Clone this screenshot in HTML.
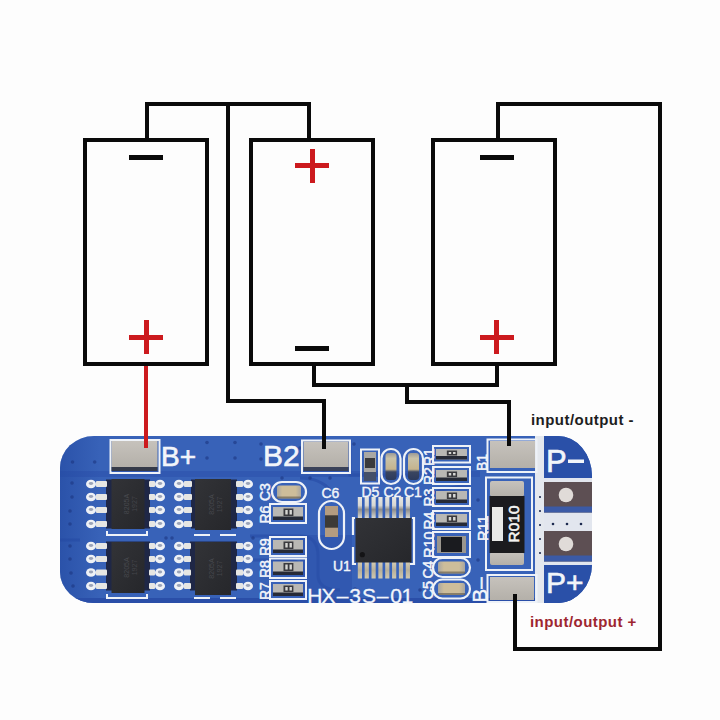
<!DOCTYPE html>
<html><head><meta charset="utf-8">
<style>
html,body{margin:0;padding:0;background:#fdfdfd;}
body{width:720px;height:720px;overflow:hidden;position:relative;font-family:"Liberation Sans",sans-serif;}
svg{position:absolute;left:0;top:0;}
.lbl{position:absolute;font-family:"Liberation Sans",sans-serif;font-weight:bold;font-size:15px;letter-spacing:0.45px;white-space:nowrap;line-height:14px;}
</style></head>
<body>
<svg width="720" height="720" viewBox="0 0 720 720">
<defs><linearGradient id="silv" x1="0" y1="0" x2="0" y2="1"><stop offset="0" stop-color="#c6c2bc"/><stop offset="1" stop-color="#b4b0a9"/></linearGradient><linearGradient id="chipg" x1="0" y1="0" x2="1" y2="1"><stop offset="0" stop-color="#323337"/><stop offset="1" stop-color="#26272b"/></linearGradient><clipPath id="pcbclip"><path d="M94 436 H558 A34 40 0 0 1 592 476 V564 A34 39 0 0 1 558 603 H94 A34 31 0 0 1 60 572 V468 A34 32 0 0 1 94 436 Z"/></clipPath><linearGradient id="leftg" x1="0" y1="0" x2="1" y2="0"><stop offset="0" stop-color="#2248a0" stop-opacity="0.6"/><stop offset="1" stop-color="#2248a0" stop-opacity="0"/></linearGradient><linearGradient id="capg" x1="0" y1="0" x2="0" y2="1"><stop offset="0" stop-color="#9c9a96"/><stop offset="0.2" stop-color="#c9c2a8"/><stop offset="0.6" stop-color="#c4b48e"/><stop offset="0.7" stop-color="#3a4560"/><stop offset="1" stop-color="#2c3a5c"/></linearGradient><linearGradient id="caph" x1="0" y1="0" x2="1" y2="0"><stop offset="0" stop-color="#a9a6a0"/><stop offset="0.22" stop-color="#cdbd9a"/><stop offset="0.78" stop-color="#cdbd9a"/><stop offset="1" stop-color="#a9a6a0"/></linearGradient><linearGradient id="pint" x1="0" y1="0" x2="0" y2="1"><stop offset="0" stop-color="#e6e6e2"/><stop offset="0.4" stop-color="#d8d8d4"/><stop offset="0.6" stop-color="#8d8d8c"/><stop offset="1" stop-color="#d8d8d2"/></linearGradient><linearGradient id="pinb" x1="0" y1="0" x2="0" y2="1"><stop offset="0" stop-color="#d4ccb4"/><stop offset="0.5" stop-color="#b8b09a"/><stop offset="1" stop-color="#d0c8b0"/></linearGradient></defs>
<g clip-path="url(#pcbclip)">
<rect x="55" y="430" width="545" height="180" fill="#3862b8"/>
<rect x="60" y="471" width="420" height="6" fill="#2a4ea8" opacity="0.45"/>
<path d="M250 536 H300 Q318 536 318 556 V575 Q318 590 340 590" fill="none" stroke="#2a4ea8" stroke-width="3" opacity="0.7"/>
<path d="M250 560 H290 Q300 560 305 575" fill="none" stroke="#2a4ea8" stroke-width="3" opacity="0.7"/>
<path d="M60 540 H80" fill="none" stroke="#2a4ea8" stroke-width="3" opacity="0.7"/>
<path d="M300 478 Q320 478 330 490" fill="none" stroke="#2a4ea8" stroke-width="3" opacity="0.7"/>
<path d="M420 500 Q430 490 470 485" fill="none" stroke="#2a4ea8" stroke-width="3" opacity="0.7"/>
<path d="M350 440 V475 H420" fill="none" stroke="#2a4ea8" stroke-width="3" opacity="0.7"/>
<rect x="60" y="436" width="40" height="168" fill="url(#leftg)"/>
<circle cx="72.5" cy="462" r="1.8" fill="#1c3580" opacity="0.6"/>
<circle cx="94.7" cy="462" r="1.8" fill="#1c3580" opacity="0.6"/>
<circle cx="207" cy="442.5" r="1.8" fill="#1c3580" opacity="0.6"/>
<circle cx="235" cy="442.5" r="1.8" fill="#1c3580" opacity="0.6"/>
<circle cx="207" cy="458" r="1.8" fill="#1c3580" opacity="0.6"/>
<circle cx="235" cy="458" r="1.8" fill="#1c3580" opacity="0.6"/>
<circle cx="261" cy="444" r="1.8" fill="#1c3580" opacity="0.6"/>
<circle cx="261" cy="459" r="1.8" fill="#1c3580" opacity="0.6"/>
<circle cx="72" cy="483" r="1.8" fill="#1c3580" opacity="0.6"/>
<circle cx="72" cy="497" r="1.8" fill="#1c3580" opacity="0.6"/>
<circle cx="70" cy="511" r="1.8" fill="#1c3580" opacity="0.6"/>
<circle cx="70" cy="524" r="1.8" fill="#1c3580" opacity="0.6"/>
<circle cx="70" cy="546" r="1.8" fill="#1c3580" opacity="0.6"/>
<circle cx="70" cy="559" r="1.8" fill="#1c3580" opacity="0.6"/>
<circle cx="71" cy="573" r="1.8" fill="#1c3580" opacity="0.6"/>
<circle cx="73" cy="586" r="1.8" fill="#1c3580" opacity="0.6"/>
<circle cx="166" cy="538" r="1.8" fill="#1c3580" opacity="0.6"/>
<circle cx="172" cy="538" r="1.8" fill="#1c3580" opacity="0.6"/>
<circle cx="253" cy="538" r="1.8" fill="#1c3580" opacity="0.6"/>
<circle cx="300" cy="448" r="1.8" fill="#1c3580" opacity="0.6"/>
<circle cx="354" cy="444" r="1.8" fill="#1c3580" opacity="0.6"/>
<circle cx="360" cy="500" r="1.8" fill="#1c3580" opacity="0.6"/>
<circle cx="330" cy="478" r="1.8" fill="#1c3580" opacity="0.6"/>
<circle cx="478" cy="500" r="1.8" fill="#1c3580" opacity="0.6"/>
<circle cx="478" cy="560" r="1.8" fill="#1c3580" opacity="0.6"/>
<circle cx="282" cy="478" r="1.8" fill="#1c3580" opacity="0.6"/>
<circle cx="310" cy="478" r="1.8" fill="#1c3580" opacity="0.6"/>
<circle cx="355" cy="589" r="1.8" fill="#1c3580" opacity="0.6"/>
<circle cx="420" cy="590" r="1.8" fill="#1c3580" opacity="0.6"/>
<rect x="60" y="598" width="532" height="8" fill="#2a4ea8"/>
<path d="M300 535 H352 V598 H300 Z" fill="#2a4ea8" opacity="0.5"/>
<rect x="544" y="430" width="56" height="180" fill="#2a50a8"/>
<rect x="535" y="436" width="9" height="168" fill="#e4e8ee"/>
<rect x="544" y="478" width="48" height="87" fill="#e2e6ee"/>
<rect x="544" y="482" width="48" height="30.5" fill="#5d4f53"/>
<rect x="544" y="506.5" width="48" height="6" fill="#3b5aa6"/>
<circle cx="566" cy="495" r="7.3" fill="#e0dbd8"/>
<rect x="544" y="531" width="48" height="30.5" fill="#5d4f53"/>
<rect x="544" y="555.5" width="48" height="6" fill="#3b5aa6"/>
<circle cx="566" cy="544" r="7.3" fill="#e0dbd8"/>
<circle cx="553" cy="524" r="1.3" fill="#1d2a50"/>
<circle cx="567" cy="524" r="1.3" fill="#1d2a50"/>
<circle cx="581" cy="524" r="1.3" fill="#1d2a50"/>
<circle cx="540" cy="497" r="1.1" fill="#1d2a50"/>
<circle cx="540" cy="511" r="1.1" fill="#1d2a50"/>
<circle cx="540" cy="525" r="1.1" fill="#1d2a50"/>
<circle cx="540" cy="539" r="1.1" fill="#1d2a50"/>
<circle cx="540" cy="553" r="1.1" fill="#1d2a50"/>
</g>
<rect x="110.5" y="440" width="49.0" height="33" fill="none" stroke="#eef2f8" stroke-width="2"/>
<rect x="111.5" y="441" width="46.0" height="26" fill="url(#silv)"/>
<rect x="111.5" y="467" width="46" height="4" fill="#353a48"/>
<rect x="302" y="440.5" width="48" height="32.5" fill="none" stroke="#eef2f8" stroke-width="2"/>
<rect x="303.5" y="441.5" width="45.0" height="25.5" fill="url(#silv)"/>
<rect x="303.5" y="467" width="45" height="4" fill="#3a4258"/>
<rect x="487.5" y="439.5" width="49.0" height="32.5" fill="none" stroke="#eef2f8" stroke-width="2"/>
<rect x="490" y="441" width="45" height="27" fill="url(#silv)"/>
<rect x="487.5" y="575" width="49.0" height="27" fill="none" stroke="#eef2f8" stroke-width="2"/>
<rect x="490" y="577" width="44" height="23" fill="url(#silv)"/>
<text x="161" y="466" font-family="Liberation Sans" font-size="28" fill="#f2f5fa" text-anchor="start" letter-spacing="0" stroke="#f2f5fa" stroke-width="0.7">B+</text>
<text x="263" y="466" font-family="Liberation Sans" font-size="30" fill="#f2f5fa" text-anchor="start" letter-spacing="0" stroke="#f2f5fa" stroke-width="0.6">B2</text>
<text x="546" y="472" font-family="Liberation Sans" font-size="31" fill="#f2f5fa" text-anchor="start" letter-spacing="0" stroke="#f2f5fa" stroke-width="0.6">P</text>
<rect x="568" y="459.5" width="16" height="3.5" fill="#f2f5fa"/>
<text x="546" y="593" font-family="Liberation Sans" font-size="30" fill="#f2f5fa" text-anchor="start" letter-spacing="0" stroke="#f2f5fa" stroke-width="0.6">P+</text>
<text y="602.5" font-family="Liberation Sans" font-size="21" fill="#f2f5fa" stroke="#f2f5fa" stroke-width="0.3"><tspan x="307.3 321.5 336.7 349.2 362 376.7 390.2 401.4">HX&#8211;3S&#8211;01</tspan></text>
<text x="321.5" y="498" font-family="Liberation Sans" font-size="14" fill="#f2f5fa" text-anchor="start" letter-spacing="0" stroke="#f2f5fa" stroke-width="0.4">C6</text>
<text x="333" y="571" font-family="Liberation Sans" font-size="14" fill="#f2f5fa" text-anchor="start" letter-spacing="0" stroke="#f2f5fa" stroke-width="0.4">U1</text>
<text x="361.5" y="497" font-family="Liberation Sans" font-size="14" fill="#f2f5fa" text-anchor="start" letter-spacing="0" stroke="#f2f5fa" stroke-width="0.4">D5</text>
<text x="383.5" y="497" font-family="Liberation Sans" font-size="14" fill="#f2f5fa" text-anchor="start" letter-spacing="0" stroke="#f2f5fa" stroke-width="0.4">C2</text>
<text x="404" y="497" font-family="Liberation Sans" font-size="14" fill="#f2f5fa" text-anchor="start" letter-spacing="0" stroke="#f2f5fa" stroke-width="0.4">C1</text>
<rect x="106" y="479.5" width="44" height="49" fill="#1f2746"/>
<ellipse cx="91" cy="484" rx="5" ry="4.3" fill="#eef1f6"/>
<ellipse cx="91" cy="483.5" rx="2.2" ry="1.4" fill="#9aa3b8"/>
<rect x="96" y="481" width="11" height="6" rx="1" fill="#e6e6e3"/>
<rect x="149" y="481" width="6" height="6" rx="1" fill="#e6e6e3"/>
<ellipse cx="160" cy="484" rx="5" ry="4.3" fill="#eef1f6"/>
<ellipse cx="160" cy="483.5" rx="2.2" ry="1.4" fill="#9aa3b8"/>
<ellipse cx="91" cy="497" rx="5" ry="4.3" fill="#eef1f6"/>
<ellipse cx="91" cy="496.5" rx="2.2" ry="1.4" fill="#9aa3b8"/>
<rect x="96" y="494" width="11" height="6" rx="1" fill="#e6e6e3"/>
<rect x="149" y="494" width="6" height="6" rx="1" fill="#e6e6e3"/>
<ellipse cx="160" cy="497" rx="5" ry="4.3" fill="#eef1f6"/>
<ellipse cx="160" cy="496.5" rx="2.2" ry="1.4" fill="#9aa3b8"/>
<ellipse cx="91" cy="510" rx="5" ry="4.3" fill="#eef1f6"/>
<ellipse cx="91" cy="509.5" rx="2.2" ry="1.4" fill="#9aa3b8"/>
<rect x="96" y="507" width="11" height="6" rx="1" fill="#e6e6e3"/>
<rect x="149" y="507" width="6" height="6" rx="1" fill="#e6e6e3"/>
<ellipse cx="160" cy="510" rx="5" ry="4.3" fill="#eef1f6"/>
<ellipse cx="160" cy="509.5" rx="2.2" ry="1.4" fill="#9aa3b8"/>
<ellipse cx="91" cy="524" rx="5" ry="4.3" fill="#eef1f6"/>
<ellipse cx="91" cy="523.5" rx="2.2" ry="1.4" fill="#9aa3b8"/>
<rect x="96" y="521" width="11" height="6" rx="1" fill="#e6e6e3"/>
<rect x="149" y="521" width="6" height="6" rx="1" fill="#e6e6e3"/>
<ellipse cx="160" cy="524" rx="5" ry="4.3" fill="#eef1f6"/>
<ellipse cx="160" cy="523.5" rx="2.2" ry="1.4" fill="#9aa3b8"/>
<rect x="111.5" y="479" width="33.0" height="50" fill="url(#chipg)"/>
<text x="128.5" y="504.0" transform="rotate(-90 128.5 504.0)" font-family="Liberation Sans" font-size="7" fill="#55565c" text-anchor="middle" opacity="0.7">8205A</text>
<text x="136.5" y="504.0" transform="rotate(-90 136.5 504.0)" font-family="Liberation Sans" font-size="7" fill="#55565c" text-anchor="middle" opacity="0.6">1927</text>
<rect x="191" y="479.5" width="46" height="49" fill="#1f2746"/>
<ellipse cx="179" cy="484" rx="5" ry="4.3" fill="#eef1f6"/>
<ellipse cx="179" cy="483.5" rx="2.2" ry="1.4" fill="#9aa3b8"/>
<rect x="184" y="481" width="8" height="6" rx="1" fill="#e6e6e3"/>
<rect x="236" y="481" width="7" height="6" rx="1" fill="#e6e6e3"/>
<ellipse cx="248" cy="484" rx="5" ry="4.3" fill="#eef1f6"/>
<ellipse cx="248" cy="483.5" rx="2.2" ry="1.4" fill="#9aa3b8"/>
<ellipse cx="179" cy="497" rx="5" ry="4.3" fill="#eef1f6"/>
<ellipse cx="179" cy="496.5" rx="2.2" ry="1.4" fill="#9aa3b8"/>
<rect x="184" y="494" width="8" height="6" rx="1" fill="#e6e6e3"/>
<rect x="236" y="494" width="7" height="6" rx="1" fill="#e6e6e3"/>
<ellipse cx="248" cy="497" rx="5" ry="4.3" fill="#eef1f6"/>
<ellipse cx="248" cy="496.5" rx="2.2" ry="1.4" fill="#9aa3b8"/>
<ellipse cx="179" cy="510" rx="5" ry="4.3" fill="#eef1f6"/>
<ellipse cx="179" cy="509.5" rx="2.2" ry="1.4" fill="#9aa3b8"/>
<rect x="184" y="507" width="8" height="6" rx="1" fill="#e6e6e3"/>
<rect x="236" y="507" width="7" height="6" rx="1" fill="#e6e6e3"/>
<ellipse cx="248" cy="510" rx="5" ry="4.3" fill="#eef1f6"/>
<ellipse cx="248" cy="509.5" rx="2.2" ry="1.4" fill="#9aa3b8"/>
<ellipse cx="179" cy="524" rx="5" ry="4.3" fill="#eef1f6"/>
<ellipse cx="179" cy="523.5" rx="2.2" ry="1.4" fill="#9aa3b8"/>
<rect x="184" y="521" width="8" height="6" rx="1" fill="#e6e6e3"/>
<rect x="236" y="521" width="7" height="6" rx="1" fill="#e6e6e3"/>
<ellipse cx="248" cy="524" rx="5" ry="4.3" fill="#eef1f6"/>
<ellipse cx="248" cy="523.5" rx="2.2" ry="1.4" fill="#9aa3b8"/>
<rect x="195" y="479" width="36" height="51" fill="url(#chipg)"/>
<text x="213.5" y="504.5" transform="rotate(-90 213.5 504.5)" font-family="Liberation Sans" font-size="7" fill="#55565c" text-anchor="middle" opacity="0.7">8205A</text>
<text x="221.5" y="504.5" transform="rotate(-90 221.5 504.5)" font-family="Liberation Sans" font-size="7" fill="#55565c" text-anchor="middle" opacity="0.6">1927</text>
<rect x="106" y="541.5" width="44" height="49" fill="#1f2746"/>
<ellipse cx="91" cy="546" rx="5" ry="4.3" fill="#eef1f6"/>
<ellipse cx="91" cy="545.5" rx="2.2" ry="1.4" fill="#9aa3b8"/>
<rect x="96" y="543" width="11" height="6" rx="1" fill="#e6e6e3"/>
<rect x="149" y="543" width="6" height="6" rx="1" fill="#e6e6e3"/>
<ellipse cx="160" cy="546" rx="5" ry="4.3" fill="#eef1f6"/>
<ellipse cx="160" cy="545.5" rx="2.2" ry="1.4" fill="#9aa3b8"/>
<ellipse cx="91" cy="559" rx="5" ry="4.3" fill="#eef1f6"/>
<ellipse cx="91" cy="558.5" rx="2.2" ry="1.4" fill="#9aa3b8"/>
<rect x="96" y="556" width="11" height="6" rx="1" fill="#e6e6e3"/>
<rect x="149" y="556" width="6" height="6" rx="1" fill="#e6e6e3"/>
<ellipse cx="160" cy="559" rx="5" ry="4.3" fill="#eef1f6"/>
<ellipse cx="160" cy="558.5" rx="2.2" ry="1.4" fill="#9aa3b8"/>
<ellipse cx="91" cy="572.5" rx="5" ry="4.3" fill="#eef1f6"/>
<ellipse cx="91" cy="572.0" rx="2.2" ry="1.4" fill="#9aa3b8"/>
<rect x="96" y="569.5" width="11" height="6" rx="1" fill="#e6e6e3"/>
<rect x="149" y="569.5" width="6" height="6" rx="1" fill="#e6e6e3"/>
<ellipse cx="160" cy="572.5" rx="5" ry="4.3" fill="#eef1f6"/>
<ellipse cx="160" cy="572.0" rx="2.2" ry="1.4" fill="#9aa3b8"/>
<ellipse cx="91" cy="586" rx="5" ry="4.3" fill="#eef1f6"/>
<ellipse cx="91" cy="585.5" rx="2.2" ry="1.4" fill="#9aa3b8"/>
<rect x="96" y="583" width="11" height="6" rx="1" fill="#e6e6e3"/>
<rect x="149" y="583" width="6" height="6" rx="1" fill="#e6e6e3"/>
<ellipse cx="160" cy="586" rx="5" ry="4.3" fill="#eef1f6"/>
<ellipse cx="160" cy="585.5" rx="2.2" ry="1.4" fill="#9aa3b8"/>
<rect x="111.5" y="542" width="33.0" height="51" fill="url(#chipg)"/>
<text x="128.5" y="567.5" transform="rotate(-90 128.5 567.5)" font-family="Liberation Sans" font-size="7" fill="#55565c" text-anchor="middle" opacity="0.7">8205A</text>
<text x="136.5" y="567.5" transform="rotate(-90 136.5 567.5)" font-family="Liberation Sans" font-size="7" fill="#55565c" text-anchor="middle" opacity="0.6">1927</text>
<rect x="190" y="541.5" width="47" height="49" fill="#1f2746"/>
<ellipse cx="179" cy="546" rx="5" ry="4.3" fill="#eef1f6"/>
<ellipse cx="179" cy="545.5" rx="2.2" ry="1.4" fill="#9aa3b8"/>
<rect x="184" y="543" width="7" height="6" rx="1" fill="#e6e6e3"/>
<rect x="236" y="543" width="7" height="6" rx="1" fill="#e6e6e3"/>
<ellipse cx="248" cy="546" rx="5" ry="4.3" fill="#eef1f6"/>
<ellipse cx="248" cy="545.5" rx="2.2" ry="1.4" fill="#9aa3b8"/>
<ellipse cx="179" cy="559" rx="5" ry="4.3" fill="#eef1f6"/>
<ellipse cx="179" cy="558.5" rx="2.2" ry="1.4" fill="#9aa3b8"/>
<rect x="184" y="556" width="7" height="6" rx="1" fill="#e6e6e3"/>
<rect x="236" y="556" width="7" height="6" rx="1" fill="#e6e6e3"/>
<ellipse cx="248" cy="559" rx="5" ry="4.3" fill="#eef1f6"/>
<ellipse cx="248" cy="558.5" rx="2.2" ry="1.4" fill="#9aa3b8"/>
<ellipse cx="179" cy="572.5" rx="5" ry="4.3" fill="#eef1f6"/>
<ellipse cx="179" cy="572.0" rx="2.2" ry="1.4" fill="#9aa3b8"/>
<rect x="184" y="569.5" width="7" height="6" rx="1" fill="#e6e6e3"/>
<rect x="236" y="569.5" width="7" height="6" rx="1" fill="#e6e6e3"/>
<ellipse cx="248" cy="572.5" rx="5" ry="4.3" fill="#eef1f6"/>
<ellipse cx="248" cy="572.0" rx="2.2" ry="1.4" fill="#9aa3b8"/>
<ellipse cx="179" cy="586" rx="5" ry="4.3" fill="#eef1f6"/>
<ellipse cx="179" cy="585.5" rx="2.2" ry="1.4" fill="#9aa3b8"/>
<rect x="184" y="583" width="7" height="6" rx="1" fill="#e6e6e3"/>
<rect x="236" y="583" width="7" height="6" rx="1" fill="#e6e6e3"/>
<ellipse cx="248" cy="586" rx="5" ry="4.3" fill="#eef1f6"/>
<ellipse cx="248" cy="585.5" rx="2.2" ry="1.4" fill="#9aa3b8"/>
<rect x="195" y="542" width="36" height="53" fill="url(#chipg)"/>
<text x="213.5" y="568.5" transform="rotate(-90 213.5 568.5)" font-family="Liberation Sans" font-size="7" fill="#55565c" text-anchor="middle" opacity="0.7">8205A</text>
<text x="221.5" y="568.5" transform="rotate(-90 221.5 568.5)" font-family="Liberation Sans" font-size="7" fill="#55565c" text-anchor="middle" opacity="0.6">1927</text>
<rect x="272" y="482" width="34" height="20" rx="10.0" fill="none" stroke="#eef2f8" stroke-width="2.2"/>
<rect x="277" y="485.5" width="24" height="13" rx="2" fill="url(#caph)"/>
<rect x="277" y="496.5" width="24" height="2" fill="#5a5448" opacity="0.6"/>
<rect x="270" y="504" width="36" height="19" fill="none" stroke="#eef2f8" stroke-width="2"/>
<rect x="273" y="507" width="30" height="13" fill="#b9b8b4"/>
<rect x="273" y="516.5" width="30" height="3.5" fill="#262a36"/>
<rect x="283.5" y="508.5" width="9.9" height="7.5" fill="#3a3a3e"/>
<rect x="285.3" y="510" width="2.4" height="4.5" fill="#d8d8d4"/>
<rect x="289.5" y="510" width="2.4" height="4.5" fill="#d8d8d4"/>
<rect x="270" y="537" width="36" height="19" fill="none" stroke="#eef2f8" stroke-width="2"/>
<rect x="273" y="540" width="30" height="13" fill="#b9b8b4"/>
<rect x="273" y="549.5" width="30" height="3.5" fill="#262a36"/>
<rect x="283.5" y="541.5" width="9.9" height="7.5" fill="#3a3a3e"/>
<rect x="285.3" y="543" width="2.4" height="4.5" fill="#d8d8d4"/>
<rect x="289.5" y="543" width="2.4" height="4.5" fill="#d8d8d4"/>
<rect x="270" y="558.5" width="36" height="19.5" fill="none" stroke="#eef2f8" stroke-width="2"/>
<rect x="273" y="561.5" width="30" height="13.5" fill="#b9b8b4"/>
<rect x="273" y="571.5" width="30" height="3.5" fill="#262a36"/>
<rect x="283.5" y="563.0" width="9.9" height="8.0" fill="#3a3a3e"/>
<rect x="285.3" y="564.5" width="2.4" height="5.0" fill="#d8d8d4"/>
<rect x="289.5" y="564.5" width="2.4" height="5.0" fill="#d8d8d4"/>
<rect x="270" y="581" width="36" height="18" fill="none" stroke="#eef2f8" stroke-width="2"/>
<rect x="273" y="584" width="30" height="12" fill="#b9b8b4"/>
<rect x="273" y="592.5" width="30" height="3.5" fill="#262a36"/>
<rect x="283.5" y="585.5" width="9.9" height="6.5" fill="#3a3a3e"/>
<rect x="285.3" y="587" width="2.4" height="3.5" fill="#d8d8d4"/>
<rect x="289.5" y="587" width="2.4" height="3.5" fill="#d8d8d4"/>
<rect x="319" y="501" width="25" height="48" rx="12.5" fill="none" stroke="#eef2f8" stroke-width="2.2"/>
<rect x="325" y="506" width="13" height="31" fill="#b49c80"/>
<rect x="325" y="515.3" width="13" height="12.4" fill="#3d3a36"/>
<rect x="361" y="449.5" width="18" height="34" fill="none" stroke="#eef2f8" stroke-width="2"/>
<rect x="364" y="452" width="12" height="29" fill="#a8a7a4"/>
<rect x="365" y="458" width="10" height="10" fill="#3a3a3c"/>
<rect x="364" y="472" width="12" height="9" fill="#44506a"/>
<rect x="381.5" y="449" width="19.0" height="35" rx="9.5" fill="none" stroke="#eef2f8" stroke-width="2.2"/>
<rect x="385.5" y="453" width="11.0" height="27" rx="3" fill="url(#capg)"/>
<rect x="404" y="449" width="19" height="35" rx="9.5" fill="none" stroke="#eef2f8" stroke-width="2.2"/>
<rect x="408" y="453" width="11" height="27" rx="3" fill="url(#capg)"/>
<rect x="433" y="446" width="37" height="16.5" fill="none" stroke="#eef2f8" stroke-width="2"/>
<rect x="436" y="449" width="31" height="10.5" fill="#b9b8b4"/>
<rect x="436" y="456.0" width="31" height="3.5" fill="#262a36"/>
<rect x="446.85" y="450.5" width="10.23" height="5.0" fill="#3a3a3e"/>
<rect x="448.71" y="452" width="2.48" height="2.0" fill="#d8d8d4"/>
<rect x="453.05" y="452" width="2.48" height="2.0" fill="#d8d8d4"/>
<rect x="433" y="467" width="37" height="17" fill="none" stroke="#eef2f8" stroke-width="2"/>
<rect x="436" y="470" width="31" height="11" fill="#b9b8b4"/>
<rect x="436" y="477.5" width="31" height="3.5" fill="#262a36"/>
<rect x="446.85" y="471.5" width="10.23" height="5.5" fill="#3a3a3e"/>
<rect x="448.71" y="473" width="2.48" height="2.5" fill="#d8d8d4"/>
<rect x="453.05" y="473" width="2.48" height="2.5" fill="#d8d8d4"/>
<rect x="433" y="488" width="37" height="18" fill="none" stroke="#eef2f8" stroke-width="2"/>
<rect x="436" y="491" width="31" height="12" fill="#b9b8b4"/>
<rect x="436" y="499.5" width="31" height="3.5" fill="#262a36"/>
<rect x="446.85" y="492.5" width="10.23" height="6.5" fill="#3a3a3e"/>
<rect x="448.71" y="494" width="2.48" height="3.5" fill="#d8d8d4"/>
<rect x="453.05" y="494" width="2.48" height="3.5" fill="#d8d8d4"/>
<rect x="433" y="511" width="37" height="18" fill="none" stroke="#eef2f8" stroke-width="2"/>
<rect x="436" y="514" width="31" height="12" fill="#b9b8b4"/>
<rect x="436" y="522.5" width="31" height="3.5" fill="#262a36"/>
<rect x="446.85" y="515.5" width="10.23" height="6.5" fill="#3a3a3e"/>
<rect x="448.71" y="517" width="2.48" height="3.5" fill="#d8d8d4"/>
<rect x="453.05" y="517" width="2.48" height="3.5" fill="#d8d8d4"/>
<rect x="433" y="532" width="37" height="25" fill="none" stroke="#eef2f8" stroke-width="2"/>
<rect x="437" y="536" width="29" height="17" fill="#9a968e"/>
<rect x="441" y="537" width="21" height="15" fill="#1a1b1f"/>
<rect x="433" y="558" width="37" height="19" rx="9.5" fill="none" stroke="#eef2f8" stroke-width="2.2"/>
<rect x="438" y="561.5" width="27" height="12" rx="2" fill="url(#caph)"/>
<rect x="438" y="571.5" width="27" height="2" fill="#5a5448" opacity="0.6"/>
<rect x="433" y="579.5" width="37" height="19.0" rx="9.5" fill="none" stroke="#eef2f8" stroke-width="2.2"/>
<rect x="438" y="583.0" width="27" height="12.0" rx="2" fill="url(#caph)"/>
<rect x="438" y="593.0" width="27" height="2" fill="#5a5448" opacity="0.6"/>
<rect x="357.8" y="497" width="4.2" height="21" fill="url(#pint)"/>
<rect x="357.8" y="562" width="4.2" height="16.5" fill="url(#pinb)"/>
<rect x="364.65000000000003" y="497" width="4.2" height="21" fill="url(#pint)"/>
<rect x="364.65000000000003" y="562" width="4.2" height="16.5" fill="url(#pinb)"/>
<rect x="371.5" y="497" width="4.2" height="21" fill="url(#pint)"/>
<rect x="371.5" y="562" width="4.2" height="16.5" fill="url(#pinb)"/>
<rect x="378.35" y="497" width="4.2" height="21" fill="url(#pint)"/>
<rect x="378.35" y="562" width="4.2" height="16.5" fill="url(#pinb)"/>
<rect x="385.2" y="497" width="4.2" height="21" fill="url(#pint)"/>
<rect x="385.2" y="562" width="4.2" height="16.5" fill="url(#pinb)"/>
<rect x="392.05" y="497" width="4.2" height="21" fill="url(#pint)"/>
<rect x="392.05" y="562" width="4.2" height="16.5" fill="url(#pinb)"/>
<rect x="398.9" y="497" width="4.2" height="21" fill="url(#pint)"/>
<rect x="398.9" y="562" width="4.2" height="16.5" fill="url(#pinb)"/>
<rect x="405.75" y="497" width="4.2" height="21" fill="url(#pint)"/>
<rect x="405.75" y="562" width="4.2" height="16.5" fill="url(#pinb)"/>
<rect x="355.5" y="518" width="56" height="44.5" fill="url(#chipg)"/>
<circle cx="362.3" cy="554.7" r="2.6" fill="#141416"/>
<path d="M355 518 H353 V535 M353 547 V564 H356" fill="none" stroke="#eef2f8" stroke-width="2.2"/>
<path d="M412 518 H414 V564 H410" fill="none" stroke="#eef2f8" stroke-width="2.2"/>
<rect x="486" y="477.5" width="46" height="92.5" fill="none" stroke="#eef2f8" stroke-width="2"/>
<rect x="490" y="481" width="34" height="15.5" rx="2" fill="url(#silv)"/>
<rect x="490" y="552" width="34" height="13" rx="2" fill="url(#silv)"/>
<rect x="489.5" y="496" width="35" height="57" fill="#1b1b1e"/>
<rect x="492" y="507" width="11" height="34" fill="#e9e9e6"/>
<text x="518.5" y="542.5" font-family="Liberation Sans" font-size="15.5" fill="#f4f4f2" text-anchor="start" letter-spacing="0" stroke="#f4f4f2" stroke-width="0.6" transform="rotate(-90 518.5 542.5)">R010</text>
<text x="269.5" y="501" font-family="Liberation Sans" font-size="14" fill="#f2f5fa" text-anchor="start" letter-spacing="0" stroke="#f2f5fa" stroke-width="0.5" transform="rotate(-90 269.5 501)">C3</text>
<text x="269.5" y="523.5" font-family="Liberation Sans" font-size="14" fill="#f2f5fa" text-anchor="start" letter-spacing="0" stroke="#f2f5fa" stroke-width="0.5" transform="rotate(-90 269.5 523.5)">R6</text>
<text x="269.5" y="556" font-family="Liberation Sans" font-size="14" fill="#f2f5fa" text-anchor="start" letter-spacing="0" stroke="#f2f5fa" stroke-width="0.5" transform="rotate(-90 269.5 556)">R9</text>
<text x="269.5" y="578" font-family="Liberation Sans" font-size="14" fill="#f2f5fa" text-anchor="start" letter-spacing="0" stroke="#f2f5fa" stroke-width="0.5" transform="rotate(-90 269.5 578)">R8</text>
<text x="269.5" y="600" font-family="Liberation Sans" font-size="14" fill="#f2f5fa" text-anchor="start" letter-spacing="0" stroke="#f2f5fa" stroke-width="0.5" transform="rotate(-90 269.5 600)">R7</text>
<text x="433.5" y="466" font-family="Liberation Sans" font-size="14" fill="#f2f5fa" text-anchor="start" letter-spacing="0" stroke="#f2f5fa" stroke-width="0.5" transform="rotate(-90 433.5 466)">R1</text>
<text x="433.5" y="485" font-family="Liberation Sans" font-size="14" fill="#f2f5fa" text-anchor="start" letter-spacing="0" stroke="#f2f5fa" stroke-width="0.5" transform="rotate(-90 433.5 485)">R2</text>
<text x="433.5" y="506.5" font-family="Liberation Sans" font-size="14" fill="#f2f5fa" text-anchor="start" letter-spacing="0" stroke="#f2f5fa" stroke-width="0.5" transform="rotate(-90 433.5 506.5)">R3</text>
<text x="433.5" y="529.5" font-family="Liberation Sans" font-size="14" fill="#f2f5fa" text-anchor="start" letter-spacing="0" stroke="#f2f5fa" stroke-width="0.5" transform="rotate(-90 433.5 529.5)">R4</text>
<text x="433.5" y="558" font-family="Liberation Sans" font-size="14.5" fill="#f2f5fa" text-anchor="start" letter-spacing="0" stroke="#f2f5fa" stroke-width="0.5" transform="rotate(-90 433.5 558)">R10</text>
<text x="433" y="578.5" font-family="Liberation Sans" font-size="14" fill="#f2f5fa" text-anchor="start" letter-spacing="0" stroke="#f2f5fa" stroke-width="0.5" transform="rotate(-90 433 578.5)">C4</text>
<text x="433" y="599.5" font-family="Liberation Sans" font-size="14.5" fill="#f2f5fa" text-anchor="start" letter-spacing="0" stroke="#f2f5fa" stroke-width="0.5" transform="rotate(-90 433 599.5)">C5</text>
<text x="487" y="471" font-family="Liberation Sans" font-size="14" fill="#f2f5fa" text-anchor="start" letter-spacing="0" stroke="#f2f5fa" stroke-width="0.5" transform="rotate(-90 487 471)">B1</text>
<text x="487.5" y="541" font-family="Liberation Sans" font-size="14.5" fill="#f2f5fa" text-anchor="start" letter-spacing="0" stroke="#f2f5fa" stroke-width="0.5" transform="rotate(-90 487.5 541)">R11</text>
<text x="487" y="602.5" font-family="Liberation Sans" font-size="20.5" fill="#f2f5fa" text-anchor="start" letter-spacing="0" stroke="#f2f5fa" stroke-width="0.5" transform="rotate(-90 487 602.5)">B&#8211;</text>
<path d="M107 531 V535 H147 V531" fill="none" stroke="#eef2f8" stroke-width="2"/>
<path d="M107 594 V598 H147 V594" fill="none" stroke="#eef2f8" stroke-width="2"/>
<path d="M194 535 H210" fill="none" stroke="#eef2f8" stroke-width="2"/>
<path d="M220 535 H236" fill="none" stroke="#eef2f8" stroke-width="2"/>
<path d="M194 598 H210" fill="none" stroke="#eef2f8" stroke-width="2"/>
<path d="M220 598 H236" fill="none" stroke="#eef2f8" stroke-width="2"/>
</svg>
<svg width="720" height="720" viewBox="0 0 720 720" shape-rendering="crispEdges">
<g fill="none" stroke="#0a0a0a" stroke-width="4">
<rect x="85" y="140" width="122" height="224"/>
<rect x="251" y="140" width="122" height="224"/>
<rect x="433" y="140" width="122" height="224"/>
</g>
<g fill="#0a0a0a">
<rect x="145" y="102" width="4" height="39"/>
<rect x="145" y="102" width="165" height="4"/>
<rect x="307" y="102" width="4" height="39"/>
<rect x="226" y="102" width="4" height="301"/>
<rect x="226" y="399" width="100" height="4"/>
<rect x="322" y="399" width="4" height="50"/>
<rect x="312" y="363" width="4" height="24"/>
<rect x="312" y="383" width="187" height="4"/>
<rect x="495" y="363" width="4" height="24"/>
<rect x="405" y="383" width="4" height="21"/>
<rect x="405" y="400" width="106" height="4"/>
<rect x="507" y="400" width="4" height="46"/>
<rect x="496" y="102" width="4" height="39"/>
<rect x="496" y="102" width="166" height="4"/>
<rect x="658" y="102" width="4" height="549"/>
<rect x="513" y="647" width="149" height="4"/>
<rect x="513" y="594" width="4" height="57"/>
<rect x="129" y="155" width="34" height="5"/>
<rect x="295" y="346" width="34" height="5"/>
<rect x="480" y="155" width="34" height="5"/>
</g>
<g fill="#cc1a1e">
<rect x="144" y="366" width="4" height="82"/>
<rect x="129" y="335" width="34" height="5"/>
<rect x="144" y="320" width="5" height="34"/>
<rect x="295" y="163" width="34" height="5"/>
<rect x="310" y="149" width="5" height="34"/>
<rect x="480" y="335" width="34" height="5"/>
<rect x="494" y="320" width="5" height="34"/>
</g></svg>
<div class="lbl" style="left:531px;top:413px;color:#1e1e1e;">input/output -</div>
<div class="lbl" style="left:530px;top:614.5px;color:#9e2630;">input/output +</div>
</body></html>
